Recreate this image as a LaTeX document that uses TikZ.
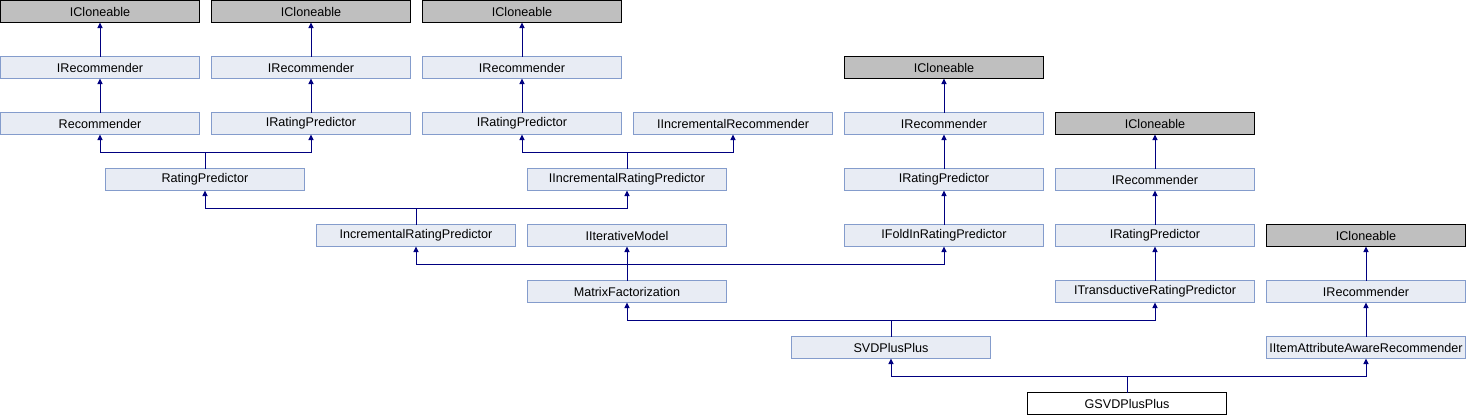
\documentclass[tikz,border=0pt]{standalone}
\usepackage{fontspec}
\setmainfont{Liberation Sans}
\usetikzlibrary{arrows.meta}
\definecolor{boxfill}{RGB}{232,236,244}
\definecolor{boxline}{RGB}{132,156,204}
\definecolor{greyfill}{RGB}{191,191,191}
\definecolor{edgecol}{RGB}{0,0,128}
\tikzset{
  cls/.style={draw=boxline, fill=boxfill, line width=1pt, minimum width=199pt, minimum height=22pt, inner sep=0pt, outer sep=0pt, font=\fontsize{12.6}{14}\selectfont},
  ext/.style={cls, draw=black, fill=greyfill},
  focus/.style={cls, draw=black, fill=white},
  inh/.style={draw=edgecol, line width=1pt, -{Triangle[width=5pt,length=5.5pt]}},
}
\begin{document}
\begin{tikzpicture}[x=1pt,y=-1pt]
\useasboundingbox (0,0) rectangle (1467,416);
% row 0
\node[ext] (ic1) at (100,11.5) {ICloneable};
\node[ext] (ic2) at (311,11.5) {ICloneable};
\node[ext] (ic3) at (522,11.5) {ICloneable};
% row 1
\node[cls] (ir1) at (100,67.5) {IRecommender};
\node[cls] (ir2) at (311,67.5) {IRecommender};
\node[cls] (ir3) at (522,67.5) {IRecommender};
\node[ext] (ic4) at (944,67.5) {ICloneable};
% row 2
\node[cls] (rec) at (100,123.5) {Recommender};
\node[cls] (irp2) at (311,123.5) {IRatingPredictor};
\node[cls] (irp3) at (522,123.5) {IRatingPredictor};
\node[cls] (iir) at (733,123.5) {IIncrementalRecommender};
\node[cls] (ir4) at (944,123.5) {IRecommender};
\node[ext] (ic5) at (1155,123.5) {ICloneable};
% row 3
\node[cls] (rp) at (205,179.5) {RatingPredictor};
\node[cls] (iirp) at (627,179.5) {IIncrementalRatingPredictor};
\node[cls] (irp4) at (944,179.5) {IRatingPredictor};
\node[cls] (ir5) at (1155,179.5) {IRecommender};
% row 4
\node[cls] (incrp) at (416,235.5) {IncrementalRatingPredictor};
\node[cls] (iter) at (627,235.5) {IIterativeModel};
\node[cls] (ifold) at (944,235.5) {IFoldInRatingPredictor};
\node[cls] (irp5) at (1155,235.5) {IRatingPredictor};
\node[ext] (ic6) at (1366,235.5) {ICloneable};
% row 5
\node[cls] (mf) at (627,291.5) {MatrixFactorization};
\node[cls] (itrans) at (1155,291.5) {ITransductiveRatingPredictor};
\node[cls] (ir6) at (1366,291.5) {IRecommender};
% row 6
\node[cls] (svd) at (891,347.5) {SVDPlusPlus};
\node[cls] (iiar) at (1366,347.5) {IItemAttributeAwareRecommender};
% row 7
\node[focus] (gsvd) at (1127,403.5) {GSVDPlusPlus};
% straight edges
\draw[inh] (ir1) -- (ic1);
\draw[inh] (rec) -- (ir1);
\draw[inh] (ir2) -- (ic2);
\draw[inh] (irp2) -- (ir2);
\draw[inh] (ir3) -- (ic3);
\draw[inh] (irp3) -- (ir3);
\draw[inh] (ir4) -- (ic4);
\draw[inh] (irp4) -- (ir4);
\draw[inh] (ifold) -- (irp4);
\draw[inh] (ir5) -- (ic5);
\draw[inh] (irp5) -- (ir5);
\draw[inh] (itrans) -- (irp5);
\draw[inh] (ir6) -- (ic6);
\draw[inh] (iiar) -- (ir6);
\draw[inh] (mf) -- (iter);
% bar edges
\draw[inh] (rp.north) -- ++(0,-16) -| (rec.south);
\draw[inh] (rp.north) -- ++(0,-16) -| (irp2.south);
\draw[inh] (iirp.north) -- ++(0,-16) -| (irp3.south);
\draw[inh] (iirp.north) -- ++(0,-16) -| (iir.south);
\draw[inh] (incrp.north) -- ++(0,-16) -| (rp.south);
\draw[inh] (incrp.north) -- ++(0,-16) -| (iirp.south);
\draw[inh] (mf.north) -- ++(0,-16) -| (incrp.south);
\draw[inh] (mf.north) -- ++(0,-16) -| (ifold.south);
\draw[inh] (svd.north) -- ++(0,-16) -| (mf.south);
\draw[inh] (svd.north) -- ++(0,-16) -| (itrans.south);
\draw[inh] (gsvd.north) -- ++(0,-16) -| (svd.south);
\draw[inh] (gsvd.north) -- ++(0,-16) -| (iiar.south);
\end{tikzpicture}
\end{document}
